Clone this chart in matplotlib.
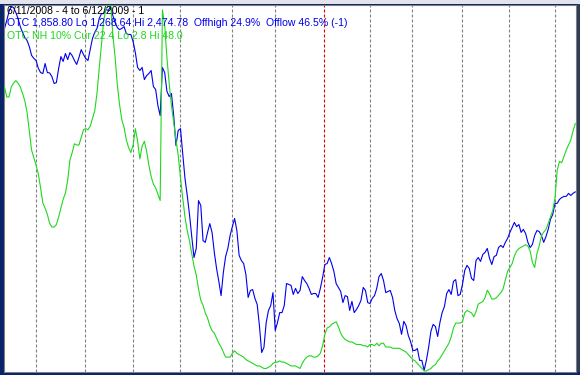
import matplotlib.pyplot as plt
from matplotlib.patches import Rectangle
import numpy as np

# OTC (Nasdaq) daily close, 6/11/2008 - 6/12/2009
otc = [
    2399, 2425, 2455, 2472, 2468, 2452, 2432, 2405, 2386, 2369,
    2359, 2339, 2310, 2300, 2293, 2267, 2253, 2250, 2283, 2253,
    2252, 2240, 2217, 2220, 2267, 2306, 2290, 2316, 2296, 2319,
    2309, 2293, 2280, 2303, 2329, 2313, 2300, 2293, 2329, 2366,
    2386, 2399, 2432, 2448, 2448, 2462, 2458, 2472, 2442, 2419,
    2402, 2395, 2399, 2405, 2382, 2379, 2379, 2356, 2319, 2270,
    2260, 2270, 2230, 2243, 2250, 2260, 2207, 2197, 2144, 2111,
    2270, 2253, 2191, 2174, 2184, 2111, 2012, 2062, 2068, 1986,
    1903, 1847, 1784, 1711, 1642, 1672, 1830, 1814, 1698, 1692,
    1725, 1754, 1725, 1659, 1606, 1563, 1516, 1592, 1645, 1672,
    1715, 1744, 1771, 1731, 1649, 1632, 1622, 1586, 1510, 1533,
    1536, 1507, 1487, 1417, 1328, 1345, 1427, 1467, 1483, 1526,
    1401, 1427, 1460, 1460, 1483, 1556, 1553, 1550, 1520, 1540,
    1523, 1533, 1579, 1566, 1556, 1540, 1520, 1523, 1523, 1510,
    1540, 1576, 1619, 1622, 1642, 1622, 1596, 1556, 1543, 1530,
    1493, 1516, 1513, 1467, 1497, 1460, 1470, 1483, 1500, 1543,
    1533, 1493, 1490, 1507, 1516, 1540, 1579, 1589, 1566, 1526,
    1530, 1533, 1510, 1467, 1440, 1424, 1388, 1431, 1417, 1384,
    1364, 1335, 1335, 1341, 1302, 1302, 1269, 1302, 1345, 1398,
    1421, 1414, 1381, 1427, 1460, 1480, 1523, 1536, 1520, 1563,
    1569, 1516, 1520, 1553, 1599, 1616, 1606, 1573, 1566, 1632,
    1642, 1629, 1652, 1659, 1672, 1639, 1619, 1645, 1649, 1675,
    1682, 1675, 1692, 1705, 1725, 1741, 1758, 1744, 1751, 1725,
    1735, 1721, 1692, 1675, 1685, 1715, 1731, 1728, 1715, 1692,
    1711, 1735, 1768, 1784, 1821, 1821, 1834, 1840, 1844, 1844,
    1854, 1847, 1854, 1858.80,
]

# OTC new highs 10% indicator
nh10 = [
    25.3, 24.5, 24.5, 25.3, 25.6, 25.8, 25.6, 25.3, 24.8, 24.2,
    23.3, 21.8, 20.3, 19.7, 19.1, 18.4, 17.3, 16.1, 15.7, 15.2,
    14.5, 14.2, 14.2, 14.4, 15.0, 15.7, 16.4, 16.9, 17.9, 19.5,
    20.1, 20.8, 20.7, 20.7, 21.3, 21.9, 22.0, 21.9, 22.2, 22.8,
    23.4, 24.8, 26.8, 28.7, 30.6, 31.5, 31.7, 32.0, 29.5, 27.7,
    25.5, 23.9, 22.7, 22.1, 21.1, 20.5, 20.1, 20.7, 22.0, 21.0,
    19.6, 20.6, 21.0, 20.2, 19.1, 18.2, 17.6, 17.3, 16.8, 16.3,
    31.4, 30.2, 27.6, 25.6, 23.8, 22.5, 21.1, 19.9, 18.1, 16.5,
    15.0, 13.9, 13.1, 12.1, 11.1, 10.4, 9.3, 8.4, 8.0, 7.4,
    7.0, 6.4, 6.0, 5.8, 5.4, 5.0, 4.7, 4.3, 3.9, 3.9,
    3.9, 4.2, 4.4, 4.2, 4.1, 4.0, 3.9, 3.7, 3.6, 3.5,
    3.4, 3.3, 3.2, 3.2, 3.1, 3.0, 3.0, 3.1, 3.2, 3.4,
    3.5, 3.5, 3.6, 3.5, 3.5, 3.4, 3.3, 3.2, 3.2, 3.2,
    3.1, 3.0, 3.4, 3.7, 3.9, 4.0, 4.0, 3.9, 3.9, 4.0,
    4.2, 4.8, 5.7, 6.2, 6.3, 6.5, 6.6, 6.7, 6.3, 5.8,
    5.5, 5.3, 5.2, 5.1, 5.1, 5.0, 4.9, 4.9, 4.9, 4.8,
    4.8, 4.7, 4.9, 4.9, 4.8, 5.0, 4.8, 5.0, 5.0, 4.7,
    4.7, 4.7, 4.6, 4.6, 4.6, 4.6, 4.5, 4.4, 4.3, 4.1,
    3.9, 3.7, 3.6, 3.4, 3.2, 3.0, 2.8, 2.8, 2.9, 3.0,
    3.2, 3.3, 3.6, 3.8, 4.1, 4.4, 4.7, 5.0, 5.5, 6.2,
    6.6, 6.6, 6.6, 6.7, 7.4, 7.6, 7.5, 7.4, 7.1, 7.5,
    8.1, 8.2, 8.3, 8.6, 9.2, 8.9, 8.5, 8.5, 8.6, 8.8,
    9.0, 9.3, 10.0, 10.7, 11.0, 11.3, 11.9, 12.3, 12.5, 12.6,
    12.7, 12.8, 12.7, 12.3, 11.4, 11.0, 12.1, 12.7, 13.5, 13.8,
    14.0, 14.5, 15.0, 15.5, 16.5, 18.7, 19.4, 19.3, 19.8, 20.3,
    20.7, 21.1, 21.8, 22.4,
]

# trading-day index of the first session of each month (Jan 2009 in red)
month_starts = [14, 36, 57, 78, 101, 120, 142, 162, 181, 203, 224, 244]
year_start = 142

titulo = "6/11/2008 - 4 to 6/12/2009 - 1"
linha_otc = "OTC 1,858.80 Lo 1,268.64 Hi 2,474.78  Offhigh 24.9%  Offlow 46.5% (-1)"
linha_nh = "OTC NH 10% Cur 22.4 Lo 2.8 Hi 48.0"

W, H = 580, 375
fig = plt.figure(figsize=(W / 100, H / 100), dpi=100, facecolor="#0a246a")

# pedacos da moldura da janela
fig.patches.append(Rectangle((0, 1 - 3.5 / H), 1, 3.5 / H, transform=fig.transFigure,
                             facecolor="#e3e3ee", edgecolor="none", zorder=0))
fig.patches.append(Rectangle((576.5 / W, 3.5 / H), 1, 1 - 7 / H, transform=fig.transFigure,
                             facecolor="#2e3c58", edgecolor="none", zorder=0))

ax = fig.add_axes([3.5 / W, 3.5 / H, 572 / W, 367 / H])
ax.set_facecolor("white")
dias = np.arange(len(otc))
ax.set_xlim(-0.443, 253.1)
ax.set_ylim(1265.3, 2478.1)

for d in month_starts:
    cor = "#e00000" if d == year_start else "#808080"
    ax.axvline(d - 0.2, color=cor, lw=0.8, dashes=(2.7, 1.8), zorder=1)

ax.plot(dias, otc, color="#0000ee", lw=0.8, zorder=3)

ax2 = ax.twinx()
ax2.set_ylim(2.76, 31.83)
ax2.plot(dias, nh10, color="#1fd81f", lw=0.8, zorder=3)

for a in (ax, ax2):
    a.set_xticks([])
    a.set_yticks([])
    for s in a.spines.values():
        s.set_color("#808080")
        s.set_linewidth(0.75)

fonte = dict(fontsize=7.6, family="Liberation Sans", ha="left", va="center")
fig.text(7 / W, 1 - 11 / H, titulo, color="black", **fonte)
fig.text(7 / W, 1 - 23.5 / H, linha_otc, color="#0000ee", **fonte)
fig.text(7 / W, 1 - 36 / H, linha_nh, color="#1fd81f", **fonte)

fig.savefig("out.png", dpi=100, facecolor=fig.get_facecolor())
